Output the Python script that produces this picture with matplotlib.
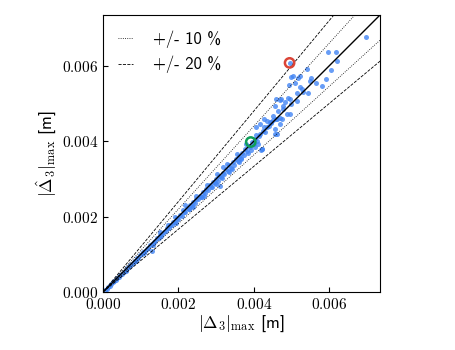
import numpy as np
import matplotlib
matplotlib.use("Agg")
import matplotlib.pyplot as plt

plt.rcParams['font.family'] = 'cmss10'
plt.rcParams['mathtext.fontset'] = 'cm'
plt.rcParams['axes.unicode_minus'] = False

# measured vs predicted max displacement
x_true = [
    0.00005, 0.00010, 0.00014, 0.00018, 0.00022, 0.00026, 0.00030, 0.00034, 0.00038, 0.00042,
    0.00046, 0.00050, 0.00055, 0.00060, 0.00064, 0.00068, 0.00072, 0.00077, 0.00081, 0.00085,
    0.00090, 0.00094, 0.00098, 0.00103, 0.00107, 0.00112, 0.00116, 0.00120, 0.00125, 0.00129,
    0.00130, 0.00135, 0.00139, 0.00144, 0.00148, 0.00152, 0.00157, 0.00161, 0.00166, 0.00170,
    0.00174, 0.00178, 0.00183, 0.00187, 0.00191, 0.00196, 0.00200, 0.00205, 0.00209, 0.00214,
    0.00218, 0.00222, 0.00227, 0.00231, 0.00235, 0.00240, 0.00244, 0.00248, 0.00253, 0.00257,
    0.00261, 0.00266, 0.00270, 0.00274, 0.00279, 0.00283, 0.00287, 0.00292, 0.00296, 0.00300,
    0.00305, 0.00309, 0.00310, 0.00313, 0.00318, 0.00318, 0.00322, 0.00326, 0.00331, 0.00335,
    0.00339, 0.00344, 0.00348, 0.00352, 0.00357, 0.00361, 0.00365, 0.00370, 0.00374, 0.00378,
    0.00383, 0.00387, 0.00391, 0.00396, 0.00400, 0.00404, 0.00408, 0.00413, 0.00418, 0.00421,
    0.00416, 0.00425, 0.00430, 0.00435, 0.00440, 0.00445, 0.00452, 0.00458, 0.00462, 0.00456,
    0.00217, 0.00190, 0.00150,
    0.00699, 0.00598, 0.00617, 0.00622, 0.00605, 0.00495, 0.00542, 0.00500, 0.00505, 0.00518,
    0.00524, 0.00510, 0.00494, 0.00553, 0.00549, 0.00565, 0.00591, 0.00582, 0.00522, 0.00527,
    0.00514, 0.00531, 0.00545, 0.00496, 0.00483, 0.00469, 0.00500, 0.00515, 0.00478, 0.00456,
    0.00465, 0.00489, 0.00452, 0.00469, 0.00434, 0.00447, 0.00475,
    0.00458, 0.00472, 0.00491, 0.00497, 0.00478, 0.00462, 0.00443, 0.00427, 0.00416, 0.00407,
    0.00423, 0.00403, 0.00456, 0.00469,
    0.00062, 0.00088, 0.00110, 0.00133, 0.00155, 0.00172, 0.00193, 0.00211, 0.00229, 0.00246,
    0.00263, 0.00276, 0.00290, 0.00303, 0.00316, 0.00329, 0.00341, 0.00355, 0.00367, 0.00380,
    0.00393, 0.00406, 0.00238, 0.00268, 0.00299, 0.00333, 0.00362, 0.00386, 0.00410, 0.00428,
]
y_pred = [
    0.00005, 0.00009, 0.00014, 0.00017, 0.00021, 0.00026, 0.00028, 0.00033, 0.00036, 0.00041,
    0.00045, 0.00048, 0.00054, 0.00057, 0.00063, 0.00066, 0.00071, 0.00074, 0.00080, 0.00082,
    0.00089, 0.00091, 0.00097, 0.00100, 0.00106, 0.00108, 0.00115, 0.00117, 0.00124, 0.00109,
    0.00127, 0.00133, 0.00135, 0.00143, 0.00144, 0.00151, 0.00154, 0.00160, 0.00162, 0.00170,
    0.00170, 0.00178, 0.00178, 0.00186, 0.00187, 0.00196, 0.00194, 0.00205, 0.00203, 0.00213,
    0.00212, 0.00222, 0.00220, 0.00230, 0.00228, 0.00240, 0.00237, 0.00248, 0.00246, 0.00256,
    0.00253, 0.00265, 0.00263, 0.00274, 0.00270, 0.00283, 0.00279, 0.00292, 0.00288, 0.00299,
    0.00295, 0.00308, 0.00282, 0.00304, 0.00331, 0.00317, 0.00312, 0.00326, 0.00322, 0.00336,
    0.00330, 0.00344, 0.00338, 0.00353, 0.00347, 0.00362, 0.00355, 0.00370, 0.00364, 0.00380,
    0.00374, 0.00388, 0.00384, 0.00398, 0.00393, 0.00405, 0.00400, 0.00414, 0.00377, 0.00380,
    0.00418, 0.00428, 0.00425, 0.00438, 0.00441, 0.00448, 0.00456, 0.00460, 0.00458, 0.00419,
    0.00230, 0.00199, 0.00158,
    0.00677, 0.00637, 0.00637, 0.00613, 0.00589, 0.00608, 0.00592, 0.00570, 0.00574, 0.00568,
    0.00572, 0.00554, 0.00550, 0.00568, 0.00561, 0.00554, 0.00565, 0.00547, 0.00545, 0.00539,
    0.00527, 0.00530, 0.00527, 0.00512, 0.00503, 0.00509, 0.00499, 0.00506, 0.00494, 0.00494,
    0.00479, 0.00472, 0.00467, 0.00463, 0.00454, 0.00452, 0.00460,
    0.00512, 0.00512, 0.00514, 0.00472, 0.00485, 0.00418, 0.00450, 0.00459, 0.00445, 0.00437,
    0.00379, 0.00386, 0.00432, 0.00445,
    0.00059, 0.00083, 0.00104, 0.00126, 0.00149, 0.00178, 0.00184, 0.00218, 0.00219, 0.00254,
    0.00251, 0.00284, 0.00278, 0.00312, 0.00302, 0.00340, 0.00327, 0.00365, 0.00352, 0.00392,
    0.00377, 0.00417, 0.00226, 0.00256, 0.00286, 0.00319, 0.00346, 0.00370, 0.00393, 0.00437,
]

# highlighted samples
worst_x, worst_y = [0.00495], [0.00608]
best_x, best_y = [0.00392], [0.00398]

ticks = [0, 0.002, 0.004, 0.006]
tick_labels = ['0.000', '0.002', '0.004', '0.006']
lim = 0.00735

fig = plt.figure(figsize=(4.55, 3.5), dpi=100)
ax = fig.add_axes([0.2264, 0.1657, 0.6088, 0.7914])

ax.scatter(x_true, y_pred, s=13, color='#4285F4', alpha=0.8, linewidths=0, zorder=2)

ref = np.array([0, 0.01])
ax.plot(ref, ref, color='k', lw=1.0, zorder=3)
ax.plot(ref, 1.1 * ref, color='k', lw=0.6, ls=':', label='+/- 10 %', zorder=3)
ax.plot(ref, ref / 1.1, color='k', lw=0.6, ls=':', zorder=3)
ax.plot(ref, 1.2 * ref, color='k', lw=0.6, ls='--', label='+/- 20 %', zorder=3)
ax.plot(ref, ref / 1.2, color='k', lw=0.6, ls='--', zorder=3)

ax.scatter(worst_x, worst_y, s=45, facecolors='none', edgecolors='#DB4437', linewidths=1.8, zorder=4)
ax.scatter(best_x, best_y, s=45, facecolors='none', edgecolors='#0F9D58', linewidths=1.8, zorder=4)

ax.set_xlim(0, lim)
ax.set_ylim(0, lim)
ax.set_xticks(ticks)
ax.set_yticks(ticks)
ax.set_xticklabels(['$' + t + '$' for t in tick_labels])
ax.set_yticklabels(['$' + t + '$' for t in tick_labels])
ax.tick_params(direction='in', labelsize=11)

ax.set_xlabel(r'$|\Delta_3|_{\max}$ [m]', fontsize=12.5, labelpad=1)
ax.set_ylabel(r'$|\hat{\Delta}_3|_{\max}$ [m]', fontsize=12.5, labelpad=2)

ax.legend(loc='upper left', frameon=False, fontsize=12, handlelength=0.9, handletextpad=1.2)

fig.savefig('out.png', dpi=100)
